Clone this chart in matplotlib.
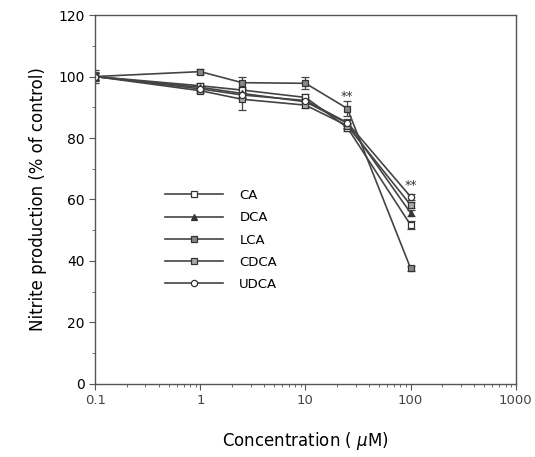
import numpy as np
import matplotlib.pyplot as plt
from matplotlib.lines import Line2D
from matplotlib.ticker import FixedLocator, NullFormatter

conc = [0.1, 1, 2.5, 10, 25, 100]

ca = [100, 97.0, 95.6, 93.2, 83.4, 51.7]
dca = [100, 96.5, 94.5, 91.8, 84.8, 55.6]
lca = [100, 101.6, 98.0, 97.8, 89.6, 37.6]
cdca = [100, 95.4, 92.6, 90.7, 84.0, 58.2]
udca = [100, 96.0, 94.0, 92.2, 85.0, 60.9]

ca_err = [1.5, 0.8, 1.0, 1.0, 1.0, 1.2]
dca_err = [1.0, 0.8, 1.0, 0.8, 1.5, 1.0]
lca_err = [2.0, 0.8, 2.0, 2.0, 2.5, 0.8]
cdca_err = [1.0, 0.8, 3.5, 1.0, 1.0, 1.0]
udca_err = [1.0, 0.8, 1.0, 1.0, 1.0, 1.0]

names = ['CA', 'DCA', 'LCA', 'CDCA', 'UDCA']
series = [ca, dca, lca, cdca, udca]
errs = [ca_err, dca_err, lca_err, cdca_err, udca_err]
markers = ['s', '^', 's', 's', 'o']
faces = ['white', '#333333', '#888888', '#aaaaaa', 'white']

fig = plt.figure(figsize=(5.35, 4.57), dpi=100)
ax = fig.add_axes([0.178, 0.160, 0.786, 0.807])

handles = []
for name, y, e, m, fc in zip(names, series, errs, markers, faces):
    ax.errorbar(conc, y, yerr=e, color='#444444', lw=1.2, marker=m,
                markersize=4.5, markerfacecolor=fc, markeredgecolor='#333333',
                markeredgewidth=0.9, capsize=3, elinewidth=0.9)
    handles.append(Line2D([], [], color='#444444', lw=1.2, marker=m,
                          markersize=4.5, markerfacecolor=fc,
                          markeredgecolor='#333333', markeredgewidth=0.9,
                          label=name))

# significance marks
ax.text(25, 91.5, '**', ha='center', va='bottom', fontsize=9, color='#333333')
ax.text(100, 62.5, '**', ha='center', va='bottom', fontsize=9, color='#333333')

ax.set_xscale('log')
ax.set_xlim(0.1, 1000)
ax.set_ylim(0, 120)
ax.set_xticks([0.1, 1, 10, 100, 1000])
ax.set_xticklabels(['0.1', '1', '10', '100', '1000'], fontsize=9.5, color='#444444')
ax.set_yticks(range(0, 121, 20))
ax.set_yticklabels([str(v) for v in range(0, 121, 20)], fontsize=10)
ax.yaxis.set_minor_locator(FixedLocator(range(10, 120, 20)))
ax.xaxis.set_minor_formatter(NullFormatter())

ax.tick_params(which='both', top=False, right=False, direction='out', color='#555555')
ax.tick_params(which='major', length=4)
ax.tick_params(which='minor', length=2.5)
for s in ax.spines.values():
    s.set_color('#555555')
    s.set_linewidth(1.0)

ax.set_xlabel('Concentration ( $\\mu$M)', fontsize=12, labelpad=16)
ax.set_ylabel('Nitrite production (% of control)', fontsize=12, labelpad=8)

ax.legend(handles=handles, loc='center', bbox_to_anchor=(0.30, 0.39), frameon=False,
          fontsize=9.5, handlelength=4.4, labelspacing=0.7, handletextpad=1.2)

plt.savefig('out.png', dpi=100)
